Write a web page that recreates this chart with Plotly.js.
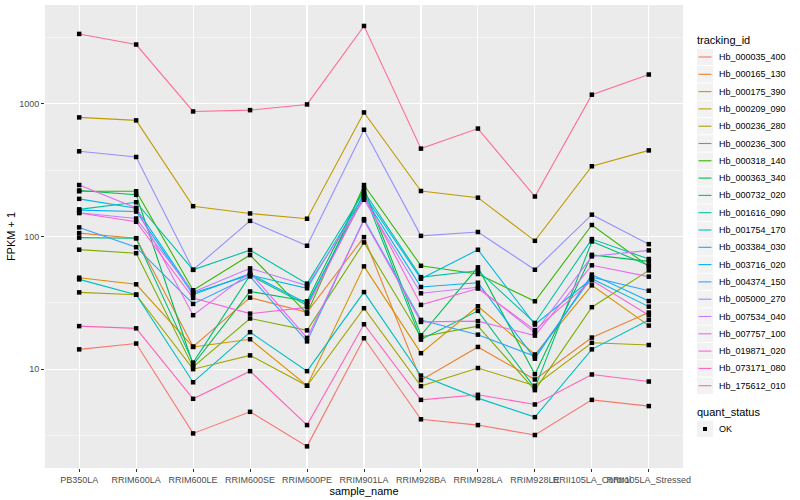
<!DOCTYPE html>
<html><head><meta charset="utf-8">
<script src="https://cdn.plot.ly/plotly-3.0.1.min.js"></script>
<style>body{margin:0;background:#fff}#chart{width:800px;height:500px}</style>
</head><body><div id="chart"></div>
<script>
const samples = ['PB350LA','RRIM600LA','RRIM600LE','RRIM600SE','RRIM600PE','RRIM901LA','RRIM928BA','RRIM928LA','RRIM928LE','RRII105LA_Control','RRII105LA_Stressed'];
const trackingIds = ['Hb_000035_400','Hb_000165_130','Hb_000175_390','Hb_000209_090','Hb_000236_280','Hb_000236_300','Hb_000318_140','Hb_000363_340','Hb_000732_020','Hb_001616_090','Hb_001754_170','Hb_003384_030','Hb_003716_020','Hb_004374_150','Hb_005000_270','Hb_007534_040','Hb_007757_100','Hb_019871_020','Hb_073171_080','Hb_175612_010'];
const colors = ['#F8766D','#EA8331','#D89000','#C09B00','#A3A500','#7CAE00','#39B600','#00BB4E','#00BF7D','#00C1A3','#00BFC4','#00BAE0','#00B0F6','#35A2FF','#9590FF','#C77CFF','#E76BF3','#FA62DB','#FF62BC','#FF6C91'];
const quantStatus = ['OK'];

const Hb_000035_400 = [14.1, 15.6, 3.28, 4.77, 2.62, 17.1, 4.19, 3.79, 3.19, 5.87, 5.27];
const Hb_000165_130 = [106, 97, 14.8, 34.6, 26.8, 98.9, 8.26, 14.7, 8.36, 17.3, 26.7];
const Hb_000175_390 = [48.9, 43.6, 14.7, 16.8, 7.5, 59.5, 13.2, 29.8, 12.9, 42.8, 21.3];
const Hb_000209_090 = [789, 749, 169, 149, 136, 860, 220, 196, 92.7, 338, 445];
const Hb_000236_280 = [37.9, 36.4, 10.0, 12.7, 7.5, 28.8, 7.45, 10.2, 7.5, 15.8, 15.2];
const Hb_000236_300 = [79.5, 74.8, 10.4, 24.1, 19.6, 90.2, 17.5, 21.1, 6.95, 29.3, 55.5];
const Hb_000318_140 = [219, 219, 39.3, 72.4, 26.2, 244, 60.1, 52.1, 32.5, 122, 59.5];
const Hb_000363_340 = [222, 206, 10.8, 38.5, 32.5, 231, 18.0, 58.5, 9.17, 72.7, 64.9];
const Hb_000732_020 = [98, 97, 11.2, 51, 30.3, 212, 16.7, 27.5, 7.2, 91.7, 60.5];
const Hb_001616_090 = [160, 181, 56, 78.9, 44.1, 218, 49.4, 55.2, 22.3, 95.5, 67.6];
const Hb_001754_170 = [47.5, 36.4, 7.97, 19.0, 9.66, 38.1, 8.95, 6.05, 4.35, 14.1, 23.5];
const Hb_003384_030 = [192, 163, 37.5, 51.2, 40.7, 206, 48.0, 79.4, 21.7, 48.0, 29.6];
const Hb_003716_020 = [158, 154, 36.4, 52.4, 31.2, 198, 41.6, 44.8, 12.0, 51.6, 32.6];
const Hb_004374_150 = [117, 83, 31, 50.0, 16.2, 135, 23.5, 18.2, 12.5, 49.4, 39.0];
const Hb_005000_270 = [438, 397, 56.1, 131, 85.1, 637, 101, 108, 56.1, 146, 87.5];
const Hb_007534_040 = [151, 136.5, 38.1, 57.5, 42.6, 189, 37.3, 41.4, 18.8, 70.8, 78.5];
const Hb_007757_100 = [244, 164, 25.5, 53.6, 17.2, 132, 22.7, 23.0, 17.9, 60.6, 49.8];
const Hb_019871_020 = [150, 129, 34.4, 26.2, 29.2, 200, 30.5, 40.5, 19.7, 46.7, 25.5];
const Hb_073171_080 = [21.1, 20.3, 5.98, 9.66, 3.79, 21.8, 5.87, 6.41, 5.42, 9.12, 8.07];
const Hb_175612_010 = [3357, 2794, 875, 895, 988, 3855, 459, 650, 200, 1170, 1660];

const seriesValues = [Hb_000035_400,Hb_000165_130,Hb_000175_390,Hb_000209_090,Hb_000236_280,Hb_000236_300,Hb_000318_140,Hb_000363_340,Hb_000732_020,Hb_001616_090,Hb_001754_170,Hb_003384_030,Hb_003716_020,Hb_004374_150,Hb_005000_270,Hb_007534_040,Hb_007757_100,Hb_019871_020,Hb_073171_080,Hb_175612_010];
const yTicks = [10, 100, 1000];
const yMinor = [3.1623, 31.623, 316.23, 3162.3];

const FONT = 'Liberation Sans, Arial, sans-serif';
const W = 800, H = 500, M = {l: 45, r: 117, t: 5, b: 32};
const PW = W - M.l - M.r, PH = H - M.t - M.b;
const px2x = p => (p - M.l) / PW;
const px2y = p => (H - M.b - p) / PH;

const traces = trackingIds.map((id, i) => ({
  type: 'scatter', mode: 'lines', name: id, x: samples, y: seriesValues[i],
  line: {color: colors[i], width: 1.1}, hoverinfo: 'skip', showlegend: false
}));
const allX = [], allY = [];
seriesValues.forEach(v => v.forEach((val, j) => { allX.push(samples[j]); allY.push(val); }));
traces.push({type: 'scatter', mode: 'markers', name: quantStatus[0], x: allX, y: allY,
  marker: {color: '#000', size: 4.5, symbol: 'square'}, hoverinfo: 'skip', showlegend: false});

// custom ggplot-style legend (layout only)
const shapes = [], annotations = [];
const LX = 695, KEY0 = 697, KEY1 = 713, TX = 717, ROW0 = 57, STEP = 17.3;
annotations.push({xref: 'paper', yref: 'paper', x: px2x(LX), y: px2y(40), xanchor: 'left', yanchor: 'middle',
  text: 'tracking_id', showarrow: false, font: {family: FONT, size: 11, color: '#000'}});
trackingIds.forEach((id, i) => {
  const cy = ROW0 + i * STEP;
  shapes.push({type: 'rect', xref: 'paper', yref: 'paper', x0: px2x(KEY0), x1: px2x(KEY1),
    y0: px2y(cy - 8.2), y1: px2y(cy + 8.2), fillcolor: '#F2F2F2', line: {width: 0}, layer: 'below'});
  shapes.push({type: 'line', xref: 'paper', yref: 'paper', x0: px2x(KEY0 + 1.5), x1: px2x(KEY1 - 1.5),
    y0: px2y(cy), y1: px2y(cy), line: {color: colors[i], width: 1.1}});
  annotations.push({xref: 'paper', yref: 'paper', x: px2x(TX), y: px2y(cy), xanchor: 'left', yanchor: 'middle',
    text: id, showarrow: false, font: {family: FONT, size: 9, color: '#000'}});
});
annotations.push({xref: 'paper', yref: 'paper', x: px2x(LX), y: px2y(412), xanchor: 'left', yanchor: 'middle',
  text: 'quant_status', showarrow: false, font: {family: FONT, size: 11, color: '#000'}});
shapes.push({type: 'rect', xref: 'paper', yref: 'paper', x0: px2x(KEY0), x1: px2x(KEY1),
  y0: px2y(429 - 8.2), y1: px2y(429 + 8.2), fillcolor: '#F2F2F2', line: {width: 0}});
shapes.push({type: 'rect', xref: 'paper', yref: 'paper', x0: px2x(703), x1: px2x(707),
  y0: px2y(431), y1: px2y(427), fillcolor: '#000', line: {width: 0}});
annotations.push({xref: 'paper', yref: 'paper', x: px2x(TX), y: px2y(429), xanchor: 'left', yanchor: 'middle',
  text: quantStatus[0], showarrow: false, font: {family: FONT, size: 9, color: '#000'}});

const layout = {
  width: W, height: H, margin: M,
  paper_bgcolor: '#fff', plot_bgcolor: '#EBEBEB',
  font: {family: FONT, color: '#000'},
  showlegend: false, shapes: shapes, annotations: annotations,
  xaxis: {
    type: 'category', categoryorder: 'array', categoryarray: samples,
    range: [-0.6, samples.length - 0.4], tickangle: 0,
    showgrid: true, gridcolor: '#fff', gridwidth: 1.1, zeroline: false,
    ticks: 'outside', ticklen: 3, tickcolor: '#333', tickwidth: 1,
    tickfont: {family: FONT, size: 9, color: '#4D4D4D'},
    title: {text: 'sample_name', font: {family: FONT, size: 11, color: '#000'}, standoff: 1},
    showline: false
  },
  yaxis: {
    type: 'log', range: [Math.log10(1.8), Math.log10(5546)],
    tickmode: 'array', tickvals: yTicks, ticktext: yTicks.map(String),
    showgrid: true, gridcolor: '#fff', gridwidth: 1.1, zeroline: false,
    ticks: 'outside', ticklen: 3, tickcolor: '#333', tickwidth: 1,
    tickfont: {family: FONT, size: 9, color: '#4D4D4D'},
    minor: {tickmode: 'array', tickvals: yMinor, showgrid: true, gridcolor: '#fff', gridwidth: 0.5, ticks: ''},
    title: {text: 'FPKM + 1', font: {family: FONT, size: 11, color: '#000'}, standoff: 1},
    showline: false
  }
};
Plotly.newPlot('chart', traces, layout, {displayModeBar: false, staticPlot: true});
</script></body></html>
